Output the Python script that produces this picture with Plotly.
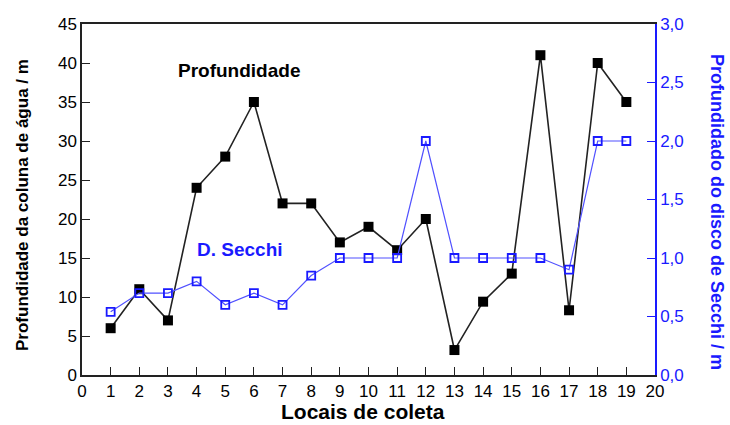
import plotly.graph_objects as go

locais = list(range(1, 20))
profundidade = [6, 11, 7, 24, 28, 35, 22, 22, 17, 19, 16, 20, 3.2, 9.4, 13, 41, 8.3, 40, 35]
secchi = [0.54, 0.70, 0.70, 0.80, 0.60, 0.70, 0.60, 0.85, 1.0, 1.0, 1.0, 2.0, 1.0, 1.0, 1.0, 1.0, 0.90, 2.0, 2.0]

FONT = "Liberation Sans, Arial, sans-serif"
BLUE = "#1a1aff"

fig = go.Figure()
fig.add_trace(go.Scatter(
    x=locais, y=profundidade, mode="lines+markers", name="Profundidade",
    line=dict(color="#222222", width=1.6),
    marker=dict(symbol="square", size=10, color="black"),
    yaxis="y"))
fig.add_trace(go.Scatter(
    x=locais, y=secchi, mode="lines+markers", name="D. Secchi",
    line=dict(color="#5050ff", width=1.2),
    marker=dict(symbol="square-open", size=8, color=BLUE, line=dict(width=1.8)),
    yaxis="y2"))

fig.add_annotation(x=5.48, y=39.1, xref="x", yref="y", text="<b>Profundidade</b>",
                   showarrow=False, font=dict(family=FONT, size=19, color="black"))
fig.add_annotation(x=5.53, y=16.1, xref="x", yref="y", text="<b>D. Secchi</b>",
                   showarrow=False, font=dict(family=FONT, size=19, color=BLUE))

# axis titles as annotations for precise placement
fig.add_annotation(x=(22 - 82) / 573, y=(375 - 205) / 351, xref="paper", yref="paper",
                   xanchor="center", yanchor="middle", textangle=-90,
                   text="<b>Profundidade da coluna de água / m</b>", showarrow=False,
                   font=dict(family=FONT, size=17, color="black"))
fig.add_annotation(x=(717 - 82) / 573, y=(375 - 212) / 351, xref="paper", yref="paper",
                   xanchor="center", yanchor="middle", textangle=90,
                   text="<b>Profundidado do disco de Secchi / m</b>", showarrow=False,
                   font=dict(family=FONT, size=18, color=BLUE))
fig.add_annotation(x=(363 - 82) / 573, y=-(411 - 375) / 351, xref="paper", yref="paper",
                   xanchor="center", yanchor="middle",
                   text="<b>Locais de coleta</b>", showarrow=False,
                   font=dict(family=FONT, size=21, color="black"))

fig.update_layout(
    width=730, height=425,
    margin=dict(l=82, r=75, t=24, b=50),
    paper_bgcolor="white", plot_bgcolor="white",
    showlegend=False,
    separators=",.",
    font=dict(family=FONT, size=17, color="black"),
    xaxis=dict(
        range=[0, 20], dtick=1, tick0=0, showgrid=False, zeroline=False, automargin=False,
        showline=True, linecolor="#222222", linewidth=1.5, mirror=True,
        ticks="inside", ticklen=8, tickwidth=1.2, tickcolor="#222222",
        tickfont=dict(family=FONT, size=17, color="black"),
    ),
    yaxis=dict(
        range=[0, 45], dtick=5, showgrid=False, zeroline=False, automargin=False,
        showline=True, linecolor="#222222", linewidth=1.5,
        ticks="inside", ticklen=8, tickwidth=1.2, tickcolor="#222222",
        tickfont=dict(family=FONT, size=17, color="black"),
    ),
    yaxis2=dict(
        range=[0, 3], dtick=0.5, tickformat=".1f", overlaying="y", side="right",
        showgrid=False, zeroline=False, automargin=False,
        showline=True, linecolor=BLUE, linewidth=1.5,
        ticks="inside", ticklen=8, tickwidth=1.2, tickcolor=BLUE,
        tickfont=dict(family=FONT, size=17, color=BLUE),
    ),
)

fig.write_html("out.html")
